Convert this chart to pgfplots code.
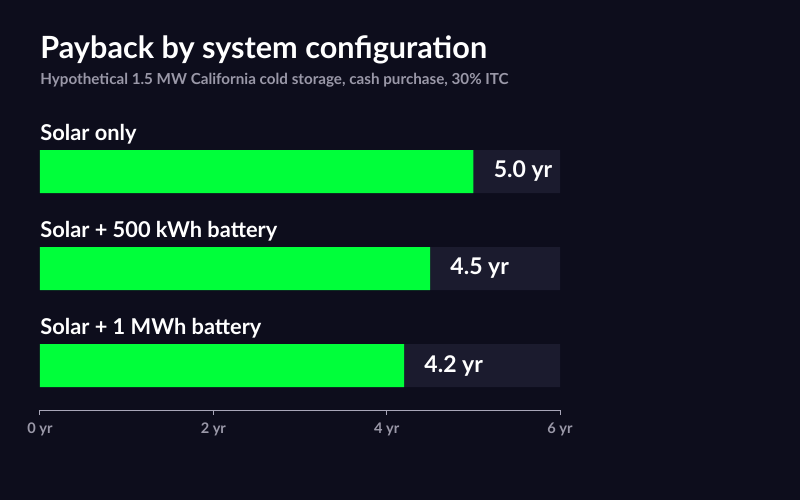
\documentclass[border=0pt]{standalone}
\usepackage{fontspec}
\setmainfont{Lato}
\usepackage{pgfplots}
\pgfplotsset{compat=1.18}
\usetikzlibrary{backgrounds}

\definecolor{bg}{HTML}{0D0D1C}
\definecolor{track}{HTML}{1B1B2E}
\definecolor{barg}{HTML}{00FF3A}
\definecolor{subg}{HTML}{9A98A8}
\definecolor{tickg}{HTML}{A8A6B8}

% 1 px of the reference = 0.5pt; y values below are -px from the top
\begin{document}
\begin{tikzpicture}
\begin{axis}[
    scale only axis,
    width=260pt, height=155pt,
    xmin=0, xmax=6,
    ymin=-410, ymax=-100,
    axis x line*=bottom,
    axis y line=none,
    x axis line style={tickg, line width=0.5pt, -},
    xtick={0,2,4,6},
    xticklabels={\textbf{0 yr},\textbf{2 yr},\textbf{4 yr},\textbf{6 yr}},
    tick align=outside,
    major tick length=2.5pt,
    x tick style={tickg, line width=0.5pt},
    xticklabel style={font=\fontsize{7.3}{8}\selectfont, text=subg, yshift=-0.5pt},
    ytick=\empty,
    /pgf/number format/assume math mode=true,
    clip=false,
]
\addplot[xbar, bar width=21.5pt, bar shift=0pt, fill=track, draw=none]
    coordinates {(6,-171.5) (6,-268.5) (6,-365.5)};
\addplot[xbar, bar width=21.5pt, bar shift=0pt, fill=barg, draw=none,
    nodes near coords={\pgfmathprintnumber[fixed,precision=1,fixed zerofill]{\pgfplotspointmeta}~yr},
    point meta=x,
    every node near coord/.append style={anchor=west, xshift=6.7pt, text=white,
        font=\fontsize{11.5}{13}\selectfont\bfseries}]
    coordinates {(5.0,-171.5) (4.5,-268.5) (4.2,-365.5)};

\node[anchor=base west, inner sep=0, text=white, font=\fontsize{15.3}{17}\selectfont\bfseries]
    at (axis cs:0,-58) {Payback by system configuration};
\node[anchor=base west, inner sep=0, text=subg, font=\fontsize{7.6}{9}\selectfont\bfseries]
    at (axis cs:0,-84) {Hypothetical 1.5 MW California cold storage, cash purchase, 30\% ITC};
\node[anchor=base west, inner sep=0, text=white, font=\fontsize{10.9}{12}\selectfont\bfseries]
    at (axis cs:0,-140) {Solar only};
\node[anchor=base west, inner sep=0, text=white, font=\fontsize{10.9}{12}\selectfont\bfseries]
    at (axis cs:0,-237) {Solar + 500 kWh battery};
\node[anchor=base west, inner sep=0, text=white, font=\fontsize{10.9}{12}\selectfont\bfseries]
    at (axis cs:0,-334) {Solar + 1 MWh battery};

\coordinate (c0) at (axis cs:-0.461538,-500);
\coordinate (c1) at (axis cs:8.769231,0);
\end{axis}
\begin{pgfonlayer}{background}
\fill[bg] (c0) rectangle (c1);
\end{pgfonlayer}
\pgfresetboundingbox
\useasboundingbox (c0) rectangle (c1);
\end{tikzpicture}
\end{document}
